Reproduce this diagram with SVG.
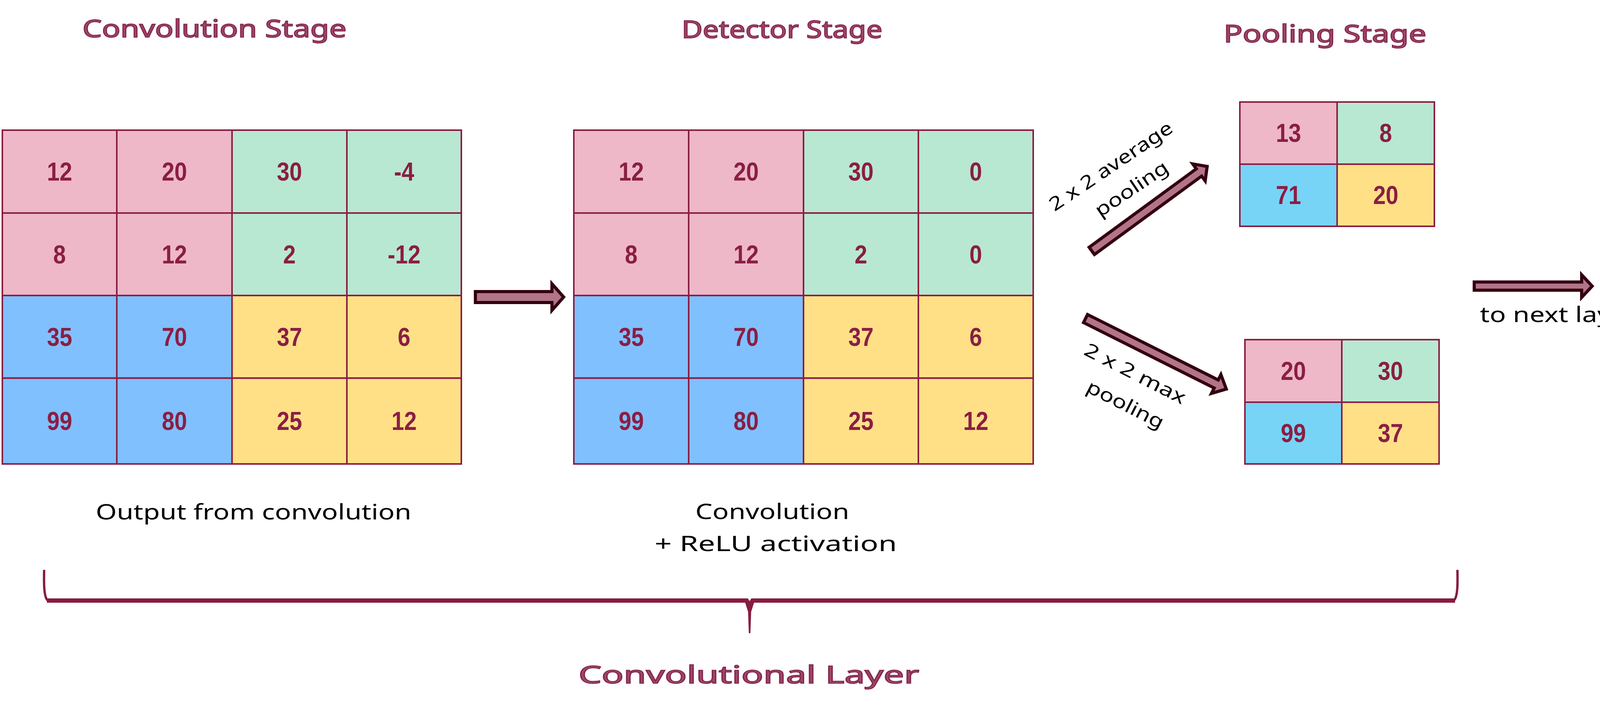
<svg xmlns="http://www.w3.org/2000/svg" width="4239" height="1837" viewBox="0 0 4239 1837">
<style>
.cell{stroke:#8A1E44;stroke-width:4}
.pk{fill:#EEB8C8}.gr{fill:#B8E8D1}.bl{fill:#80C0FF}.yl{fill:#FFE086}.cy{fill:#77D4F6}
.num{font-family:"Liberation Sans",Arial,sans-serif;font-weight:bold;font-size:66px;fill:#8A1E44;text-anchor:middle;transform-box:fill-box;transform-origin:center;transform:scaleX(0.88)}
.title{font-family:"Noto Sans",sans-serif;font-size:62px;fill:#A0496B;stroke:#85284F;stroke-width:2.5;text-anchor:middle}
.hand{font-family:"Noto Sans",sans-serif;font-size:54px;fill:#000;text-anchor:middle}
.lbl{font-family:"Noto Sans",sans-serif;font-size:48px;fill:#000;text-anchor:middle}
.arrow{fill:#B27488;stroke:#33000F;stroke-width:8;stroke-linejoin:miter}
.brace{fill:none;stroke:#861D3F}
</style>
<rect width="4239" height="1837" fill="#FFFFFF"/>

<g id="titles">
<text class="title" x="549" y="95" textLength="676" lengthAdjust="spacingAndGlyphs">Convolution Stage</text>
<text class="title" x="2002" y="97" textLength="514" lengthAdjust="spacingAndGlyphs">Detector Stage</text>
<text class="title" x="3392" y="108" textLength="519" lengthAdjust="spacingAndGlyphs">Pooling Stage</text>
</g>

<g id="conv-grid">
<g id="c11"><rect class="cell pk" x="6" y="333" width="293" height="212"/><text class="num" x="152.5" y="462">12</text></g>
<g id="c12"><rect class="cell pk" x="299" y="333" width="295" height="212"/><text class="num" x="446.5" y="462">20</text></g>
<g id="c13"><rect class="cell gr" x="594" y="333" width="294" height="212"/><text class="num" x="741" y="462">30</text></g>
<g id="c14"><rect class="cell gr" x="888" y="333" width="293" height="212"/><text class="num" x="1034.5" y="462">-4</text></g>
<g id="c21"><rect class="cell pk" x="6" y="545" width="293" height="211"/><text class="num" x="152.5" y="674">8</text></g>
<g id="c22"><rect class="cell pk" x="299" y="545" width="295" height="211"/><text class="num" x="446.5" y="674">12</text></g>
<g id="c23"><rect class="cell gr" x="594" y="545" width="294" height="211"/><text class="num" x="741" y="674">2</text></g>
<g id="c24"><rect class="cell gr" x="888" y="545" width="293" height="211"/><text class="num" x="1034.5" y="674">-12</text></g>
<g id="c31"><rect class="cell bl" x="6" y="756" width="293" height="211.5"/><text class="num" x="152.5" y="885">35</text></g>
<g id="c32"><rect class="cell bl" x="299" y="756" width="295" height="211.5"/><text class="num" x="446.5" y="885">70</text></g>
<g id="c33"><rect class="cell yl" x="594" y="756" width="294" height="211.5"/><text class="num" x="741" y="885">37</text></g>
<g id="c34"><rect class="cell yl" x="888" y="756" width="293" height="211.5"/><text class="num" x="1034.5" y="885">6</text></g>
<g id="c41"><rect class="cell bl" x="6" y="967.5" width="293" height="219.5"/><text class="num" x="152.5" y="1100">99</text></g>
<g id="c42"><rect class="cell bl" x="299" y="967.5" width="295" height="219.5"/><text class="num" x="446.5" y="1100">80</text></g>
<g id="c43"><rect class="cell yl" x="594" y="967.5" width="294" height="219.5"/><text class="num" x="741" y="1100">25</text></g>
<g id="c44"><rect class="cell yl" x="888" y="967.5" width="293" height="219.5"/><text class="num" x="1034.5" y="1100">12</text></g>
</g>

<g id="detector-grid">
<g id="d11"><rect class="cell pk" x="1469" y="333" width="294" height="212"/><text class="num" x="1616" y="462">12</text></g>
<g id="d12"><rect class="cell pk" x="1763" y="333" width="294" height="212"/><text class="num" x="1910" y="462">20</text></g>
<g id="d13"><rect class="cell gr" x="2057" y="333" width="294" height="212"/><text class="num" x="2204" y="462">30</text></g>
<g id="d14"><rect class="cell gr" x="2351" y="333" width="294" height="212"/><text class="num" x="2498" y="462">0</text></g>
<g id="d21"><rect class="cell pk" x="1469" y="545" width="294" height="211"/><text class="num" x="1616" y="674">8</text></g>
<g id="d22"><rect class="cell pk" x="1763" y="545" width="294" height="211"/><text class="num" x="1910" y="674">12</text></g>
<g id="d23"><rect class="cell gr" x="2057" y="545" width="294" height="211"/><text class="num" x="2204" y="674">2</text></g>
<g id="d24"><rect class="cell gr" x="2351" y="545" width="294" height="211"/><text class="num" x="2498" y="674">0</text></g>
<g id="d31"><rect class="cell bl" x="1469" y="756" width="294" height="211.5"/><text class="num" x="1616" y="885">35</text></g>
<g id="d32"><rect class="cell bl" x="1763" y="756" width="294" height="211.5"/><text class="num" x="1910" y="885">70</text></g>
<g id="d33"><rect class="cell yl" x="2057" y="756" width="294" height="211.5"/><text class="num" x="2204" y="885">37</text></g>
<g id="d34"><rect class="cell yl" x="2351" y="756" width="294" height="211.5"/><text class="num" x="2498" y="885">6</text></g>
<g id="d41"><rect class="cell bl" x="1469" y="967.5" width="294" height="219.5"/><text class="num" x="1616" y="1100">99</text></g>
<g id="d42"><rect class="cell bl" x="1763" y="967.5" width="294" height="219.5"/><text class="num" x="1910" y="1100">80</text></g>
<g id="d43"><rect class="cell yl" x="2057" y="967.5" width="294" height="219.5"/><text class="num" x="2204" y="1100">25</text></g>
<g id="d44"><rect class="cell yl" x="2351" y="967.5" width="294" height="219.5"/><text class="num" x="2498" y="1100">12</text></g>
</g>

<g id="avg-pool-grid">
<g id="a11"><rect class="cell pk" x="3174" y="261" width="249" height="159"/><text class="num" x="3298.5" y="363.5">13</text></g>
<g id="a12"><rect class="cell gr" x="3423" y="261" width="249" height="159"/><text class="num" x="3547.5" y="363.5">8</text></g>
<g id="a21"><rect class="cell cy" x="3174" y="420" width="249" height="159"/><text class="num" x="3298.5" y="522.5">71</text></g>
<g id="a22"><rect class="cell yl" x="3423" y="420" width="249" height="159"/><text class="num" x="3547.5" y="522.5">20</text></g>
</g>

<g id="max-pool-grid">
<g id="m11"><rect class="cell pk" x="3187" y="869" width="248" height="160"/><text class="num" x="3311" y="972">20</text></g>
<g id="m12"><rect class="cell gr" x="3435" y="869" width="249" height="160"/><text class="num" x="3559.5" y="972">30</text></g>
<g id="m21"><rect class="cell cy" x="3187" y="1029" width="248" height="158"/><text class="num" x="3311" y="1131">99</text></g>
<g id="m22"><rect class="cell yl" x="3435" y="1029" width="249" height="158"/><text class="num" x="3559.5" y="1131">37</text></g>
</g>

<g id="connectors">
<polygon id="arrow-relu" class="arrow" points="1217,746 1413,746 1413,726 1443,760 1413,794 1413,774 1217,774"/>
<polygon id="arrow-avg" class="arrow" transform="translate(2795,642) rotate(-36.2)" points="0,-11.5 340,-11.5 340,-27 366,0 340,27 340,11.5 0,11.5"/>
<polygon id="arrow-max" class="arrow" transform="translate(2779,815) rotate(26.6)" points="0,-11.5 374,-11.5 374,-27 403,0 374,27 374,11.5 0,11.5"/>
<polygon id="arrow-next" class="arrow" points="3774,721.5 4049,721.5 4049,703 4076,732 4049,761 4049,742.5 3774,742.5"/>
</g>

<g id="labels">
<g transform="translate(2845,427) rotate(-34)"><text class="lbl" x="0" y="14" textLength="370" lengthAdjust="spacingAndGlyphs">2 x 2 average</text></g>
<g transform="translate(2898,485) rotate(-34)"><text class="lbl" x="0" y="14" textLength="215" lengthAdjust="spacingAndGlyphs">pooling</text></g>
<g transform="translate(2905,958) rotate(27)"><text class="lbl" x="0" y="14" textLength="285" lengthAdjust="spacingAndGlyphs">2 x 2 max</text></g>
<g transform="translate(2880,1037) rotate(27)"><text class="lbl" x="0" y="14" textLength="215" lengthAdjust="spacingAndGlyphs">pooling</text></g>
<text class="hand" x="3990" y="824" textLength="403" lengthAdjust="spacingAndGlyphs">to next layer</text>
<text class="hand" x="649" y="1329" textLength="808" lengthAdjust="spacingAndGlyphs">Output from convolution</text>
<text class="hand" x="1977" y="1328" textLength="394" lengthAdjust="spacingAndGlyphs">Convolution</text>
<text class="hand" x="1986" y="1410" textLength="620" lengthAdjust="spacingAndGlyphs">+ ReLU activation</text>
</g>

<g id="brace">
<path class="brace" stroke-width="6" d="M113,1458 C112,1500 113,1528 122,1536"/>
<path class="brace" stroke-width="6" d="M3731,1458 C3732,1500 3731,1528 3722,1536"/>
<path class="brace" stroke-width="11" d="M120,1536.5 H3725"/>
<polygon fill="#861D3F" points="1907,1540 1931,1540 1923,1565 1921,1620 1917,1620 1915,1565"/>
<polygon fill="#FFFFFF" points="1914,1530 1924,1530 1919,1538"/>
</g>

<text id="layer-label" class="title" x="1917" y="1748" font-size="72" textLength="872" lengthAdjust="spacingAndGlyphs">Convolutional Layer</text>
</svg>
